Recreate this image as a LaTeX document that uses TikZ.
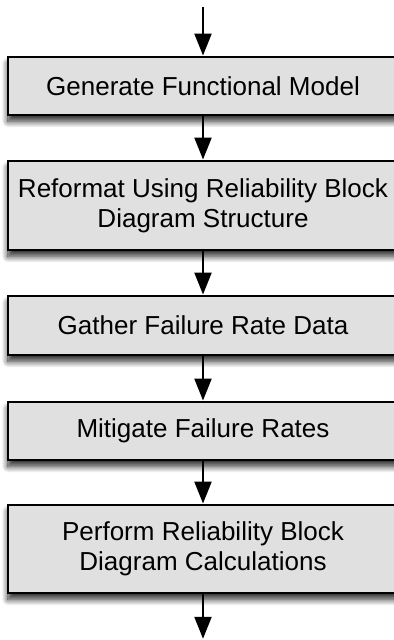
\documentclass[tikz,border=0pt]{standalone}
\usepackage{fontspec}
\setmainfont{Liberation Sans}
\usepackage{tikz}
\usetikzlibrary{shapes,arrows.meta,positioning,shadows.blur}
\definecolor{boxgray}{RGB}{224,224,224}
\tikzstyle{grayblock}=[rectangle, draw, align=center, fill=boxgray, line width=2pt, minimum width=97.5mm, minimum height=14.5mm, font=\fontsize{18.5}{21.3}\selectfont, blur shadow={shadow xshift=0pt, shadow yshift=-4.5pt, shadow blur radius=4.5pt, shadow blur steps=10, shadow opacity=85}]
\tikzstyle{flow}=[->, line width=2pt]

\begin{document}
\begin{tikzpicture}[>={Triangle[length=5.5mm,width=4.2mm]}]

\useasboundingbox (0,0) rectangle (9.85,-16);

\node[grayblock](gen) at (5.075,-2.15) {Generate Functional Model};
\node[grayblock, minimum height=22.25mm](reformat) at (5.075,-5.1375) {Reformat Using Reliability Block \\ Diagram Structure};
\node[grayblock, minimum height=14.75mm](gather) at (5.075,-8.1375) {Gather Failure Rate Data};
\node[grayblock](mitigate) at (5.075,-10.775) {Mitigate Failure Rates};
\node[grayblock, minimum height=22mm](perform) at (5.075,-13.725) {Perform Reliability Block \\ Diagram Calculations};

\coordinate (in) at (5.075,-0.175);
\coordinate (out) at (5.075,-15.97);

\draw[flow](in) -- (gen.north);
\draw[flow](gen.south) -- (reformat.north);
\draw[flow](reformat.south) -- (gather.north);
\draw[flow](gather.south) -- (mitigate.north);
\draw[flow](mitigate.south) -- (perform.north);
\draw[flow](perform.south) -- (out);

\end{tikzpicture}
\end{document}
